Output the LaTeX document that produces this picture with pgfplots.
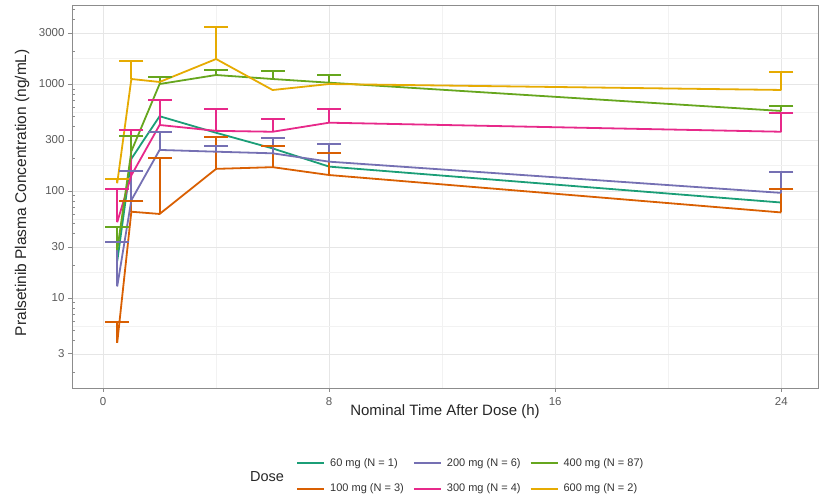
\documentclass[border=0pt]{standalone}
\usepackage{fontspec}
\setmainfont{Liberation Sans}
\usepackage{pgfplots}
\pgfplotsset{compat=1.18}
\definecolor{cA}{HTML}{1B9E77}
\definecolor{cB}{HTML}{D95F02}
\definecolor{cC}{HTML}{7570B3}
\definecolor{cD}{HTML}{E7298A}
\definecolor{cE}{HTML}{66A61E}
\definecolor{cF}{HTML}{E6AB02}
\definecolor{axisgray}{HTML}{8C8C8C}
\definecolor{ticktext}{HTML}{5A5A5A}
\definecolor{gridmaj}{HTML}{E6E6E6}
\definecolor{gridmin}{HTML}{F2F2F2}

% mean (m) and upper error-bar end (c = mean + SD)
\pgfplotstableread{
t m
0.5 22
1 200
2 500
4 350
6 250
8 169
24 78
}\dA
\pgfplotstableread{
t m c
0.5 3.8 5.9
1 64 81
2 61 203
4 161 322
6 167 264
8 141 225
24 63 104
}\dB
\pgfplotstableread{
t m c
0.5 12.8 33.6
1 82 155
2 242 356
4 233 264
6 225 311
8 188 275
24 96 151
}\dC
\pgfplotstableread{
t m c
0.5 51 104
1 140 368
2 414 708
4 365 580
6 358 471
8 435 584
24 358 540
}\dD
\pgfplotstableread{
t m c
0.5 28 46
1 235 325
2 1000 1160
4 1214 1360
6 1114 1332
8 1029 1214
24 560 622
}\dE
\pgfplotstableread{
t m
0.5 118
1 1114
2 1045
4 1713
6 879
8 1000
24 880
}\dF
\pgfplotstableread{
t m c
0.5 118 130
1 1114 1640
4 1713 3430
24 880 1303
}\dFe

\pgfplotsset{
  ser/.style={draw=#1, line width=1.8pt, mark=none, forget plot},
  bar/.style={draw=#1, line width=2pt, mark=none, forget plot},
  cap/.style={only marks, mark=-, mark size=12pt, forget plot,
    mark options={draw=#1, line width=2pt}},
}

\begin{document}
\begin{tikzpicture}
\useasboundingbox (-72pt,-109pt) rectangle (747pt,388pt);
\begin{axis}[
  at={(0pt,0pt)}, anchor=south west,
  scale only axis, width=746pt, height=383pt,
  ymode=log,
  xmin=-1.1, xmax=25.3, ymin=1.44, ymax=5480,
  unbounded coords=jump,
  xtick pos=bottom, ytick pos=left,
  xtick={0,8,16,24}, minor xtick={4,12,20},
  ytick={3,10,30,100,300,1000,3000},
  yticklabels={3,10,30,100,300,1000,3000},
  minor ytick={5.477,17.32,54.77,173.2,547.7,1732},
  extra y ticks={2,4,5,6,7,8,9,20,40,50,60,70,80,90,200,400,500,600,700,800,900,2000,4000,5000},
  extra y tick labels={},
  extra y tick style={grid=none, tick align=inside, major tick length=3pt},
  grid=both,
  major grid style={color=gridmaj, line width=0.7pt},
  minor grid style={color=gridmin, line width=0.5pt},
  tick align=outside, major tick length=4pt, minor tick length=0pt,
  tick style={color=axisgray, line width=0.8pt},
  axis line style={color=axisgray, line width=0.9pt},
  /pgf/number format/assume math mode=true,
  ticklabel style={font=\fontsize{11.5}{13}\selectfont, text=ticktext},
  xticklabel style={yshift=-2pt},
  xlabel={Nominal Time After Dose (h)},
  ylabel={Pralsetinib Plasma Concentration (ng/mL)},
  xlabel style={font=\fontsize{15}{17}\selectfont, text=black!85,
    at={(axis description cs:0.5,-0.0627)}, anchor=center},
  ylabel style={font=\fontsize{15.5}{17}\selectfont, text=black!85,
    at={(axis description cs:-0.0670,0.51)}, anchor=center},
  legend columns=3,
  legend cell align=left,
  legend image code/.code={\draw[#1, line width=2pt] (0pt,0pt) -- (27pt,0pt);},
  legend style={draw=none, fill=none, inner sep=0pt,
    at={(axis description cs:0.3003,-0.2298)}, anchor=west,
    font=\fontsize{11}{13}\selectfont, text=black!80,
    row sep=14pt,
    nodes={inner sep=1pt},
    /tikz/every odd column/.append style={column sep=4pt},
    /tikz/every even column/.append style={column sep=8pt}},
]
% 60 mg (N = 1): no SD
\addplot[ser=cA] table[x=t,y=m] {\dA};
% 100 mg
\addplot[ser=cB] table[x=t,y=m] {\dB};
\addplot[bar=cB] coordinates {(0.5,3.8)(0.5,5.9)(nan,nan)(1,64)(1,81)(nan,nan)(2,61)(2,203)(nan,nan)(4,161)(4,322)(nan,nan)(6,167)(6,264)(nan,nan)(8,141)(8,225)(nan,nan)(24,63)(24,104)};
\addplot[cap=cB] table[x=t,y=c] {\dB};
% 200 mg
\addplot[ser=cC] table[x=t,y=m] {\dC};
\addplot[bar=cC] coordinates {(0.5,12.8)(0.5,33.6)(nan,nan)(1,82)(1,155)(nan,nan)(2,242)(2,356)(nan,nan)(4,233)(4,264)(nan,nan)(6,225)(6,311)(nan,nan)(8,188)(8,275)(nan,nan)(24,96)(24,151)};
\addplot[cap=cC] table[x=t,y=c] {\dC};
% 300 mg
\addplot[ser=cD] table[x=t,y=m] {\dD};
\addplot[bar=cD] coordinates {(0.5,51)(0.5,104)(nan,nan)(1,140)(1,368)(nan,nan)(2,414)(2,708)(nan,nan)(4,365)(4,580)(nan,nan)(6,358)(6,471)(nan,nan)(8,435)(8,584)(nan,nan)(24,358)(24,540)};
\addplot[cap=cD] table[x=t,y=c] {\dD};
% 400 mg
\addplot[ser=cE] table[x=t,y=m] {\dE};
\addplot[bar=cE] coordinates {(0.5,28)(0.5,46)(nan,nan)(1,235)(1,325)(nan,nan)(2,1000)(2,1160)(nan,nan)(4,1214)(4,1360)(nan,nan)(6,1114)(6,1332)(nan,nan)(8,1029)(8,1214)(nan,nan)(24,560)(24,622)};
\addplot[cap=cE] table[x=t,y=c] {\dE};
% 600 mg
\addplot[ser=cF] table[x=t,y=m] {\dF};
\addplot[bar=cF] coordinates {(0.5,118)(0.5,130)(nan,nan)(1,1114)(1,1640)(nan,nan)(4,1713)(4,3430)(nan,nan)(24,880)(24,1303)};
\addplot[cap=cF] table[x=t,y=c] {\dFe};

\addlegendimage{cA}\addlegendentry{60 mg (N = 1)}
\addlegendimage{cC}\addlegendentry{200 mg (N = 6)}
\addlegendimage{cE}\addlegendentry{400 mg (N = 87)}
\addlegendimage{cB}\addlegendentry{100 mg (N = 3)}
\addlegendimage{cD}\addlegendentry{300 mg (N = 4)}
\addlegendimage{cF}\addlegendentry{600 mg (N = 2)}
\end{axis}
\node[font=\fontsize{14.5}{16}\selectfont, text=black!85] at (195pt,-89pt) {Dose};
\end{tikzpicture}
\end{document}
